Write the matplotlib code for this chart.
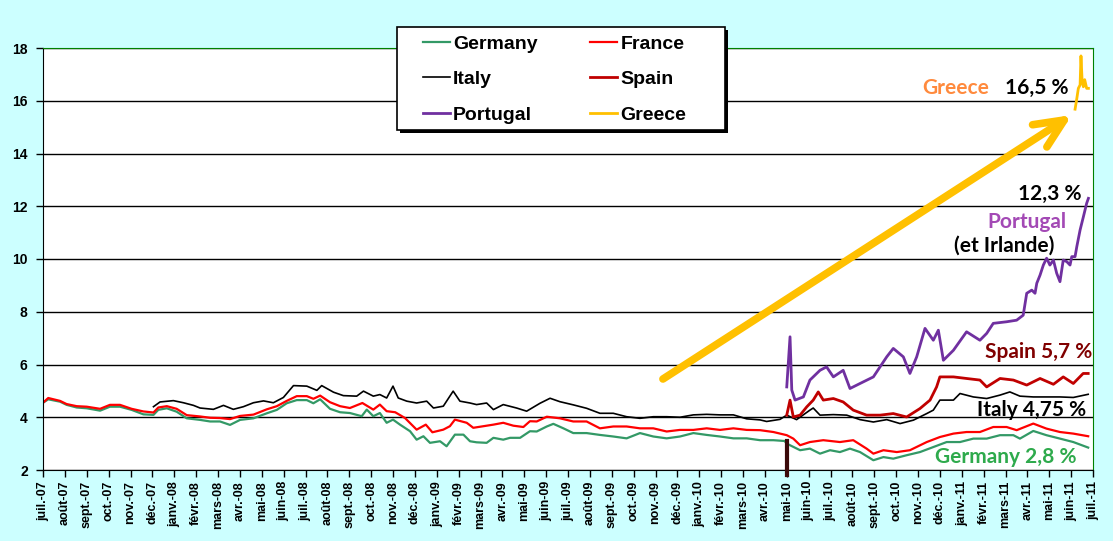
import matplotlib
matplotlib.use('Agg')
import matplotlib.pyplot as plt
from matplotlib.patches import ArrowStyle, Rectangle

# mois depuis juil.-07 (0 = juil.-07, 48 = juil.-11)
mois = ['janv.', 'févr.', 'mars', 'avr.', 'mai', 'juin',
        'juil.', 'août', 'sept.', 'oct.', 'nov.', 'déc.']
tick_labels = ['%s-%02d' % (mois[(6 + i) % 12], 7 + (6 + i) // 12) for i in range(49)]

germany_m = [0.0, 0.24, 0.78, 1.08, 1.54, 2.0, 2.61, 3.06, 3.52, 4.05, 4.59, 5.05, 5.27, 5.66,
             6.11, 6.57, 7.18, 7.64, 8.09, 8.55, 9.01, 9.62, 10.23, 10.69, 11.14, 11.6, 12.06,
             12.36, 12.67, 13.12, 13.58, 14.03, 14.57, 14.8, 15.1, 15.4, 15.71, 16.0, 16.32,
             16.78, 17.08, 17.39, 17.69, 18.15, 18.45, 18.83, 19.22, 19.52, 19.82, 20.28, 20.59,
             21.04, 21.35, 21.81, 22.26, 22.57, 23.03, 23.33, 23.79, 24.24, 24.85, 25.46, 26.07,
             26.68, 27.29, 27.9, 28.51, 29.12, 29.73, 30.34, 30.95, 31.56, 32.17, 32.78, 33.39,
             33.9, 34.0, 34.61, 35.06, 35.52, 35.98, 36.43, 36.89, 37.35, 37.96, 38.42, 38.87,
             39.48, 40.09, 40.7, 41.31, 41.92, 42.53, 43.14, 43.75, 44.36, 44.66, 45.27, 45.87,
             46.49, 47.1, 47.78]
germany = [4.55, 4.68, 4.59, 4.47, 4.37, 4.34, 4.25, 4.40, 4.40, 4.28, 4.11, 4.09, 4.28, 4.34,
           4.21, 3.96, 3.90, 3.84, 3.84, 3.71, 3.90, 3.96, 4.15, 4.28, 4.53, 4.65, 4.65,
           4.53, 4.68, 4.32, 4.19, 4.16, 4.04, 4.29, 4.04, 4.16, 3.79, 3.91, 3.72,
           3.47, 3.15, 3.28, 3.03, 3.09, 2.90, 3.34, 3.34, 3.09, 3.05, 3.03, 3.22,
           3.15, 3.22, 3.22, 3.47, 3.46, 3.65, 3.75, 3.58, 3.40, 3.40, 3.33, 3.27,
           3.20, 3.40, 3.27, 3.20, 3.27, 3.40, 3.33, 3.27, 3.20, 3.20, 3.13, 3.13,
           3.10, 3.00, 2.75, 2.81, 2.62, 2.75, 2.68, 2.81, 2.68, 2.37, 2.49, 2.43,
           2.56, 2.68, 2.87, 3.06, 3.06, 3.19, 3.19, 3.32, 3.32, 3.19, 3.48, 3.32,
           3.19, 3.06, 2.85]

france_m = [0.0, 0.24, 0.78, 1.08, 1.54, 2.0, 2.61, 3.06, 3.52, 4.05, 4.59, 5.05, 5.27, 5.66,
            6.11, 6.57, 7.18, 7.64, 8.09, 8.55, 9.01, 9.62, 10.23, 10.69, 11.14, 11.6, 12.06,
            12.36, 12.67, 13.12, 13.58, 14.03, 14.6, 15.1, 15.4, 15.71, 16.1, 16.55, 17.08,
            17.5, 17.8, 18.3, 18.6, 18.83, 19.37, 19.67, 20.13, 20.59, 21.04, 21.5, 21.96,
            22.26, 22.57, 23.03, 23.63, 24.24, 24.85, 25.46, 26.07, 26.68, 27.29, 27.9, 28.51,
            29.12, 29.73, 30.34, 30.95, 31.56, 32.17, 32.78, 33.39, 34.0, 34.3, 34.61, 35.06,
            35.67, 36.43, 37.04, 37.65, 37.96, 38.42, 39.03, 39.63, 40.4, 41.0, 41.62, 42.22,
            42.83, 43.44, 44.05, 44.51, 45.27, 45.87, 46.49, 47.1, 47.78]
france = [4.55, 4.73, 4.62, 4.50, 4.42, 4.40, 4.32, 4.47, 4.47, 4.32, 4.22, 4.18, 4.37, 4.42,
          4.32, 4.08, 4.03, 3.98, 3.97, 3.93, 4.05, 4.10, 4.30, 4.42, 4.62, 4.80, 4.80,
          4.70, 4.82, 4.57, 4.42, 4.35, 4.54, 4.29, 4.48, 4.23, 4.19, 3.97, 3.53,
          3.72, 3.43, 3.53, 3.66, 3.91, 3.79, 3.60, 3.66, 3.72, 3.79, 3.68, 3.63,
          3.85, 3.84, 4.02, 3.96, 3.84, 3.84, 3.58, 3.65, 3.65, 3.58, 3.58, 3.46,
          3.52, 3.52, 3.58, 3.52, 3.58, 3.52, 3.51, 3.44, 3.32, 3.19, 2.94, 3.06,
          3.13, 3.06, 3.13, 2.81, 2.62, 2.75, 2.68, 2.75, 3.06, 3.25, 3.38, 3.44,
          3.44, 3.63, 3.63, 3.51, 3.76, 3.57, 3.44, 3.38, 3.28]

italy_m = [5.05, 5.35, 5.96, 6.42, 6.88, 7.18, 7.79, 8.25, 8.7, 9.16, 9.62, 10.08, 10.53, 10.99,
           11.45, 12.06, 12.52, 12.74, 13.28, 13.73, 14.34, 14.65, 15.1, 15.4, 15.71, 16.0,
           16.24, 16.63, 17.08, 17.54, 17.85, 18.3, 18.75, 19.06, 19.52, 19.82, 20.28, 20.59,
           21.04, 21.65, 22.11, 22.72, 23.18, 23.63, 24.24, 24.85, 25.46, 26.07, 26.68, 27.29,
           27.9, 28.51, 29.12, 29.73, 30.34, 30.95, 31.56, 32.17, 32.78, 33.08, 33.69, 34.0,
           34.45, 35.06, 35.21, 35.52, 36.13, 36.74, 37.35, 37.96, 38.57, 39.18, 39.79, 40.4,
           40.7, 41.0, 41.62, 41.92, 42.53, 43.14, 43.75, 44.2, 44.66, 45.27, 45.87, 46.49,
           47.1, 47.78]
italy = [4.40, 4.58, 4.63, 4.55, 4.45, 4.35, 4.30, 4.45, 4.30, 4.40, 4.55, 4.62, 4.55, 4.75,
         5.20, 5.18, 5.02, 5.20, 4.95, 4.82, 4.80, 4.99, 4.80, 4.86, 4.73, 5.18,
         4.73, 4.61, 4.54, 4.61, 4.35, 4.42, 4.99, 4.61, 4.54, 4.48, 4.54, 4.29,
         4.48, 4.35, 4.23, 4.53, 4.72, 4.59, 4.47, 4.34, 4.15, 4.15, 4.02, 3.96,
         4.02, 4.02, 4.00, 4.09, 4.11, 4.09, 4.09, 3.94, 3.90, 3.84, 3.92, 4.08,
         3.91, 4.27, 4.35, 4.08, 4.10, 4.08, 3.91, 3.82, 3.91, 3.76, 3.89, 4.14,
         4.27, 4.65, 4.65, 4.90, 4.77, 4.71, 4.84, 4.96, 4.80, 4.77, 4.77, 4.77,
         4.75, 4.87]

spain_m = [34.0, 34.15, 34.3, 34.61, 34.91, 35.21, 35.44, 35.67, 36.13, 36.58, 37.04, 37.65,
           38.27, 38.87, 39.48, 40.09, 40.55, 40.85, 41.0, 41.62, 42.22, 42.83, 43.14, 43.75,
           44.36, 44.97, 45.58, 46.19, 46.64, 47.1, 47.55, 47.78]
spain = [4.08, 4.65, 4.01, 4.08, 4.39, 4.65, 4.96, 4.65, 4.71, 4.58, 4.27, 4.08,
         4.08, 4.14, 4.01, 4.33, 4.65, 5.15, 5.53, 5.53, 5.47, 5.41, 5.15, 5.47,
         5.41, 5.22, 5.47, 5.25, 5.53, 5.28, 5.66, 5.66]

portugal_m = [34.0, 34.15, 34.23, 34.38, 34.76, 35.06, 35.52, 35.82, 36.13, 36.58, 36.89, 37.35,
              37.96, 38.57, 38.87, 39.33, 39.63, 39.94, 40.32, 40.7, 40.93, 41.16, 41.62, 42.22,
              42.83, 43.14, 43.44, 44.05, 44.51, 44.81, 44.97, 45.2, 45.35, 45.43, 45.58, 45.73,
              45.88, 46.03, 46.19, 46.34, 46.49, 46.64, 46.8, 46.95, 47.03, 47.18, 47.26, 47.41,
              47.56, 47.71, 47.79]
portugal = [5.15, 7.05, 5.03, 4.65, 4.77, 5.41, 5.78, 5.91, 5.53, 5.78, 5.09, 5.28,
            5.53, 6.29, 6.61, 6.29, 5.66, 6.29, 7.37, 6.92, 7.30, 6.16, 6.54, 7.24,
            6.92, 7.18, 7.56, 7.62, 7.68, 7.87, 8.70, 8.82, 8.70, 9.08, 9.39, 9.77,
            10.03, 9.77, 9.96, 9.46, 9.14, 9.96, 9.90, 9.77, 10.09, 10.09, 10.47, 11.10,
            11.60, 12.11, 12.30]

greece_m = [47.18, 47.25, 47.33, 47.41, 47.45, 47.5, 47.56, 47.62, 47.71, 47.79]
greece = [15.68, 16.03, 16.47, 16.60, 17.70, 16.80, 16.53, 16.80, 16.47, 16.47]

# trait vertical sombre (mai-10) et flèche jaune
marker_m = 34.0
marker_y = [3.1, 1.8]
arrow_from = (28.34, 5.45)
arrow_to = (47.04, 15.46)

W, H = 1113, 541
fig = plt.figure(figsize=(W / 100, H / 100), dpi=100, facecolor='#CCFFFF')
ax = fig.add_axes([43 / W, 71 / H, 1050 / W, 422 / H])
ax.set_facecolor('white')

ax.plot(germany_m, germany, color='#339966', lw=1.6, label='Germany')
ax.plot(france_m, france, color='#FF0000', lw=1.6, label='France')
ax.plot(italy_m, italy, color='black', lw=1.2, label='Italy')
ax.plot(spain_m, spain, color='#C00000', lw=2.0, label='Spain')
ax.plot(portugal_m, portugal, color='#7030A0', lw=2.0, label='Portugal')
ax.plot(greece_m, greece, color='#FFC000', lw=2.0, label='Greece')

ax.plot([marker_m, marker_m], marker_y, color='#3B0A0A', lw=3, clip_on=False, zorder=5)

ax.annotate('', xy=arrow_to, xytext=arrow_from,
            arrowprops=dict(arrowstyle=ArrowStyle('->', head_length=2.1, head_width=0.95),
                            color='#FFC000', lw=5.5, shrinkA=0, shrinkB=0,
                            capstyle='round', joinstyle='round', mutation_scale=10))

ax.set_xlim(0, 48)
ax.set_ylim(2, 18)
ax.set_yticks(range(2, 19, 2))
ax.set_xticks(range(49))
ax.set_xticklabels(tick_labels, rotation=90, fontsize=9, fontweight='bold',
                   family='Liberation Sans')
for t in ax.get_yticklabels():
    t.set_fontsize(10)
    t.set_fontweight('bold')
    t.set_family('Liberation Sans')
ax.tick_params(axis='x', direction='out', length=5, width=1, pad=3)
ax.tick_params(axis='y', direction='out', length=5, width=1, pad=6)
ax.yaxis.grid(True, color='black', lw=1)
ax.set_axisbelow(True)
ax.spines['top'].set_color('#008000')
ax.spines['right'].set_color('#008000')
ax.spines['left'].set_color('black')
ax.spines['bottom'].set_color('black')

txt = dict(family='Lato', fontweight='bold', fontsize=15, ha='center', va='center')
ax.text(41.7, 16.48, 'Greece', color='#FF8A3D', **txt)
ax.text(45.44, 16.48, '16,5 %', color='black', **txt)
ax.text(46.03, 12.46, '12,3 %', color='black', **txt)
ax.text(45.0, 11.4, 'Portugal', color='#A349B5', **txt)
ax.text(43.93, 10.49, '(et Irlande)', color='black', **txt)
ax.text(45.53, 6.47, 'Spain 5,7 %', color='#800000', clip_on=False, **txt)
ax.text(45.2, 4.27, 'Italy 4,75 %', color='black', **txt)
ax.text(44.0, 2.49, 'Germany 2,8 %', color='#2EAA4C', **txt)

# cadre de légende avec ombre
shadow = Rectangle((400 / W, 1 - 133 / H), 328 / W, 103 / H, transform=fig.transFigure,
                   facecolor='black', edgecolor='none', zorder=3)
frame = Rectangle((397 / W, 1 - 130 / H), 328 / W, 103 / H, transform=fig.transFigure,
                  facecolor='white', edgecolor='black', lw=1.2, zorder=3.1)
fig.patches.extend([shadow, frame])

handles, labels = ax.get_legend_handles_labels()
order = [0, 2, 4, 1, 3, 5]
leg = fig.legend([handles[i] for i in order], [labels[i] for i in order],
                 ncol=2, loc='upper left', bbox_to_anchor=(423 / W, 1 - 35 / H),
                 borderaxespad=0, borderpad=0, frameon=False,
                 prop={'family': 'Liberation Sans', 'weight': 'bold', 'size': 14},
                 handlelength=1.4, handletextpad=0.15, labelspacing=0.92, columnspacing=2.7)
leg.set_zorder(4)

fig.savefig('out.png', dpi=100, facecolor=fig.get_facecolor())
